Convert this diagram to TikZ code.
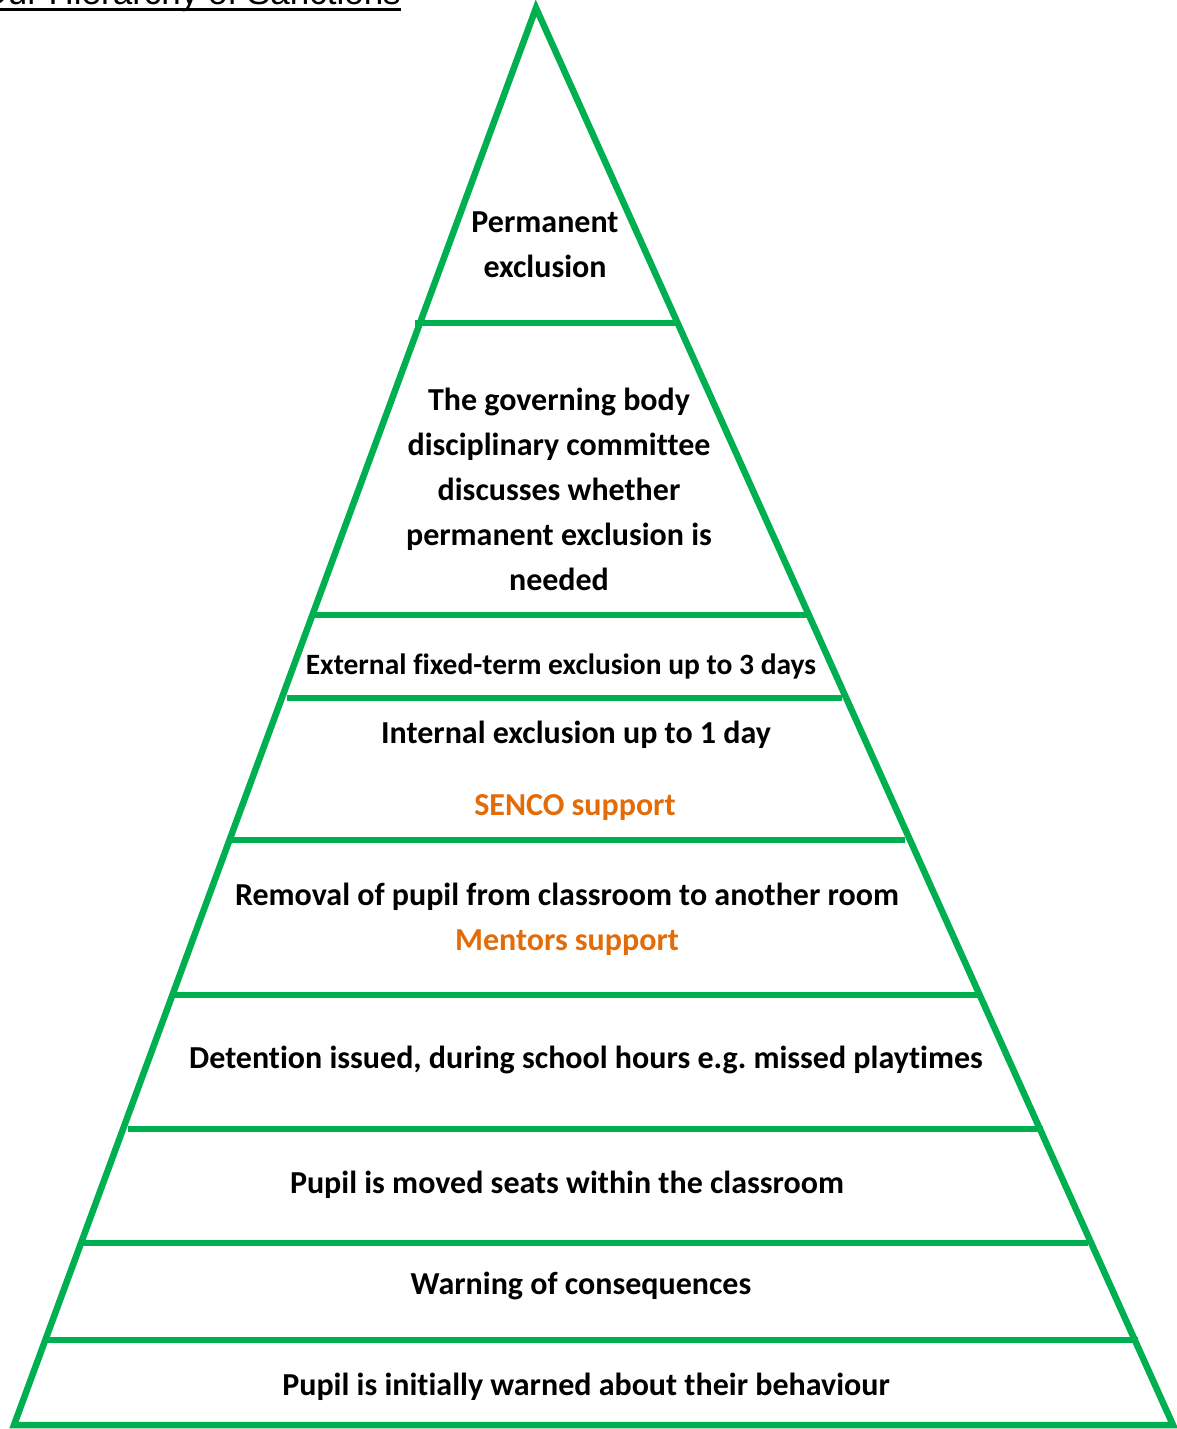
\documentclass[tikz,border=0pt]{standalone}
\usepackage{fontspec}
\setmainfont{Carlito}[Ligatures=NoCommon]
\newfontfamily\titlefont{Liberation Sans}
\usetikzlibrary{calc}
\definecolor{SanctionGreen}{HTML}{00B050}
\definecolor{SupportOrange}{HTML}{E36C09}
\tikzset{
  edge/.style={draw=SanctionGreen, line width=6.5pt, line join=miter},
  rung/.style={draw=SanctionGreen, line width=6.5pt},
  tier/.style={font=\bfseries\fontsize{32}{45}\selectfont, align=center, text=black, inner sep=0pt},
  tiersmall/.style={tier, font=\bfseries\fontsize{29.5}{45}\selectfont},
  support/.style={tier, text=SupportOrange},
}

\begin{document}
\begin{tikzpicture}[x=1pt, y=-1pt]
  \useasboundingbox (0,0) rectangle (1177,1429);

  % heading, cut by the top edge of the page
  \node[font=\titlefont\fontsize{35}{40}\selectfont, anchor=base east, inner sep=0pt] (title) at (401,5) {Our Hierarchy of Sanctions};
  \draw[line width=3pt] ($(title.base west)+(0,5)$) -- ($(title.base east)+(0,5)$);

  % pyramid outline
  \coordinate (apex) at (536,8);
  \coordinate (bl) at (14,1425);
  \coordinate (br) at (1173,1425);
  \draw[edge] (apex) -- (bl) -- (br) -- cycle;

  % dividing lines between the tiers
  \foreach \y/\xa/\xb in {323/415/678, 615/313/808, 698/287/842, 840/230/905,
                          995/170/982, 1129/128/1043, 1243/82/1088, 1340/47/1138}
    \draw[rung] (\xa,\y) -- (\xb,\y);

  % tiers, top to bottom
  \node[tier] (perm) at (545,245) {Permanent\\exclusion};
  \node[tier] (gov) at (559,489) {The governing body\\disciplinary committee\\discusses whether\\permanent exclusion is\\needed};
  \node[tiersmall, anchor=base] (ext) at (561,674) {External fixed-term exclusion up to 3 days};
  \node[tier, anchor=base] (int) at (576,743) {Internal exclusion up to 1 day};
  \node[support, anchor=base] (senco) at (575,815) {SENCO support};
  \node[tier, anchor=base] (removal) at (567,905) {Removal of pupil from classroom to another room};
  \node[support, anchor=base] (mentors) at (567,950) {Mentors support};
  \node[tier, anchor=base] (detention) at (586,1068) {Detention issued, during school hours e.g.\ missed playtimes};
  \node[tier, anchor=base] (seats) at (567,1193) {Pupil is moved seats within the classroom};
  \node[tier, anchor=base] (warning) at (581,1294) {Warning of consequences};
  \node[tier, anchor=base] (initial) at (586,1395) {Pupil is initially warned about their behaviour};
\end{tikzpicture}
\end{document}
